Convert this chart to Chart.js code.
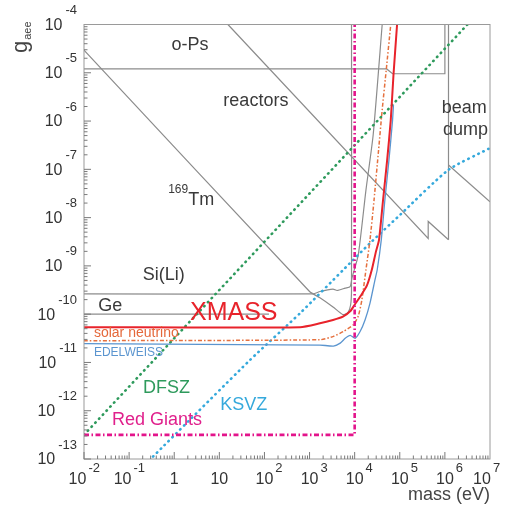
<!DOCTYPE html>
<html>
<head>
<meta charset="utf-8">
<script src="https://cdn.jsdelivr.net/npm/chart.js@4.4.1/dist/chart.umd.min.js"></script>
<style>
  html, body { margin: 0; padding: 0; background: #fff; }
  #wrap { width: 516px; height: 509px; }
</style>
</head>
<body>
<div id="wrap"><canvas id="chart" width="516" height="509"></canvas></div>
<script>
// all values are log10(mass / eV) and log10(g_aee)
const xExpMin = -2, xExpMax = 7;
const yExpMin = -13, yExpMax = -4;

const opsM = [-2, 4.71, 4.84, 6.0, 6.0];
const opsG = [-4.92, -4.92, -5.02, -5.02, -4];

const reactorsM = [1.19, 5.63, 5.63, 6.08];
const reactorsG = [-4, -8.43, -8.08, -8.46];

const beamDumpM = [6.08, 6.08];
const beamDumpG = [-4, -8.46];
const beamEdgeM = [6.08, 7.0];
const beamEdgeG = [-6.91, -7.67];

const tmM = [-2, 3.0, 3.23, 3.52, 3.74, 3.85, 3.91, 3.93, 3.93];
const tmG = [-4.53, -9.53, -9.66, -9.85, -10.01, -9.97, -9.81, -9.5, -4];

const siliM = [-2, 3.08, 3.23, 3.52, 3.61, 3.79, 3.90, 3.94, 4.08, 4.25, 4.41, 4.61];
const siliG = [-9.58, -9.58, -9.53, -9.48, -9.51, -9.46, -9.43, -9.25, -8.77, -7.43, -6.29, -4];

const geM = [-2, 2.1];
const geG = [-10, -10];

const xmassM = [-2, 2.79, 3.23, 3.52, 3.74, 3.90, 4.01, 4.12, 4.27, 4.38, 4.47, 4.54, 4.63, 4.72, 4.80, 4.86, 4.94];
const xmassG = [-10.27, -10.27, -10.19, -10.12, -10.05, -9.94, -9.79, -9.64, -9.41, -9.08, -8.71, -8.46, -7.63, -6.81, -5.98, -5.05, -4];

const solarM = [-2, 3.23, 3.53, 3.75, 3.97, 4.08, 4.16, 4.25, 4.34, 4.43, 4.53, 4.61, 4.70, 4.80];
const solarG = [-10.55, -10.53, -10.46, -10.36, -10.22, -10.04, -9.70, -9.08, -8.46, -7.63, -6.60, -5.77, -4.94, -4];

const edelM = [-2, 3.23, 3.53, 3.68, 3.79, 3.90, 4.01, 4.12, 4.23, 4.34, 4.45, 4.50, 4.59, 4.67, 4.76, 4.84, 4.86];
const edelG = [-10.61, -10.64, -10.66, -10.60, -10.50, -10.44, -10.50, -10.36, -10.12, -9.77, -9.29, -9.08, -8.46, -7.63, -6.81, -5.98, -5.67];

const dfszM = [-2, 6.5];
const dfszG = [-12.5, -4];

const ksvzM = [-0.47, 1.68, 2.79, 3.75, 4.34, 5.01, 6.08, 7.0];
const ksvzG = [-12.95, -10.95, -9.98, -9.08, -8.53, -7.94, -7.01, -6.56];

const redGiantM = [-2, 4.0, 4.0];
const redGiantG = [-12.5, -12.5, -4];

const labels = [
  { t: 'o-Ps', m: 0.35, g: -4.42, c: '#3a3a3a', s: 18, a: 'center' },
  { t: 'reactors', m: 1.81, g: -5.58, c: '#3a3a3a', s: 18, a: 'center' },
  { t: 'beam', m: 5.93, g: -5.73, c: '#3a3a3a', s: 18, a: 'left' },
  { t: 'dump', m: 5.96, g: -6.18, c: '#3a3a3a', s: 18, a: 'left' },
  { t: 'Tm', m: 0.31, g: -7.63, c: '#3a3a3a', s: 18, a: 'left' },
  { t: '169', m: 0.31, g: -7.42, c: '#3a3a3a', s: 12, a: 'right' },
  { t: 'Si(Li)', m: -0.23, g: -9.19, c: '#3a3a3a', s: 18, a: 'center' },
  { t: 'Ge', m: -1.42, g: -9.84, c: '#3a3a3a', s: 18, a: 'center' },
  { t: 'XMASS', m: 0.35, g: -9.97, c: '#e8232b', s: 25, a: 'left' },
  { t: 'solar neutrino', m: -1.78, g: -10.39, c: '#e5683a', s: 14, a: 'left' },
  { t: 'EDELWEISS', m: -1.78, g: -10.79, c: '#5b95cf', s: 12, a: 'left' },
  { t: 'DFSZ', m: -0.69, g: -11.53, c: '#2e9a5c', s: 18, a: 'left' },
  { t: 'KSVZ', m: 1.02, g: -11.88, c: '#35a9dc', s: 18, a: 'left' },
  { t: 'Red Giants', m: -1.38, g: -12.19, c: '#e0208c', s: 18, a: 'left' }
];

const FONT = '"Liberation Sans", Arial, sans-serif';

function pts(ms, gs) {
  return ms.map((m, i) => ({ x: 10 ** m, y: 10 ** gs[i] }));
}

function line(ms, gs, color, width, dash, tension) {
  const dotted = dash && dash[0] < 1;
  return {
    data: pts(ms, gs),
    showLine: true,
    borderColor: color,
    borderWidth: width,
    borderDash: dash || [],
    borderCapStyle: dotted ? 'round' : 'butt',
    pointRadius: 0,
    tension: tension || 0,
    fill: false
  };
}

const gray = '#8c8c8c';

const decor = {
  id: 'decor',
  afterDatasetsDraw(chart) {
    const { ctx, chartArea: a, scales: { x, y } } = chart;
    ctx.save();

    // labels inside the plot
    ctx.textBaseline = 'middle';
    labels.forEach(l => {
      ctx.font = l.s + 'px ' + FONT;
      ctx.fillStyle = l.c;
      ctx.textAlign = l.a;
      ctx.fillText(l.t, x.getPixelForValue(10 ** l.m), y.getPixelForValue(10 ** l.g));
    });

    // frame
    ctx.strokeStyle = '#9a9a9a';
    ctx.lineWidth = 1;
    ctx.strokeRect(a.left, a.top, a.right - a.left, a.bottom - a.top);

    // ticks
    ctx.strokeStyle = '#7a7a7a';
    ctx.beginPath();
    for (let e = yExpMin; e < yExpMax; e++) {
      for (let k = 1; k < 10; k++) {
        const py = y.getPixelForValue(k * 10 ** e);
        const len = k === 1 ? 7 : 3.5;
        ctx.moveTo(a.left, py); ctx.lineTo(a.left + len, py);
      }
    }
    for (let e = xExpMin; e < xExpMax; e++) {
      for (let k = 1; k < 10; k++) {
        const px = x.getPixelForValue(k * 10 ** e);
        const len = k === 1 ? 7 : 3.5;
        ctx.moveTo(px, a.bottom); ctx.lineTo(px, a.bottom - len);
      }
    }
    ctx.stroke();

    // tick labels
    ctx.fillStyle = '#333';
    ctx.textBaseline = 'middle';
    for (let e = yExpMin; e <= yExpMax; e++) {
      const py = y.getPixelForValue(10 ** e);
      ctx.font = '13px ' + FONT;
      const sup = String(e);
      const sw = ctx.measureText(sup).width;
      ctx.textAlign = 'right';
      ctx.fillText(sup, a.left - 7, py - 14);
      ctx.font = '16px ' + FONT;
      ctx.fillText('10', a.left - 7 - sw - 3, py + 1);
    }
    for (let e = xExpMin; e <= xExpMax; e++) {
      let px = x.getPixelForValue(10 ** e);
      ctx.font = '16px ' + FONT;
      ctx.textAlign = 'center';
      if (e === 0) { ctx.fillText('1', px, a.bottom + 21); continue; }
      if (e === 1) { ctx.fillText('10', px, a.bottom + 21); continue; }
      if (e < 0) px -= 6.5;
      if (e === xExpMax) px -= 8;
      ctx.fillText('10', px, a.bottom + 21);
      const bw = ctx.measureText('10').width;
      ctx.font = '13px ' + FONT;
      ctx.textAlign = 'left';
      ctx.fillText(String(e), px + bw / 2 + 2, a.bottom + 9);
    }

    // axis titles
    ctx.fillStyle = '#444';
    ctx.font = '18px ' + FONT;
    ctx.textAlign = 'right';
    ctx.fillText('mass (eV)', a.right, a.bottom + 36);

    ctx.translate(27, 53);
    ctx.rotate(-Math.PI / 2);
    ctx.textAlign = 'left';
    ctx.textBaseline = 'alphabetic';
    ctx.font = '22px ' + FONT;
    ctx.fillText('g', 0, 0);
    const gw = ctx.measureText('g').width;
    ctx.font = '11px ' + FONT;
    ctx.fillText('aee', gw + 1, 4);

    ctx.restore();
  }
};

new Chart(document.getElementById('chart'), {
  type: 'scatter',
  data: {
    datasets: [
      line(redGiantM, redGiantG, '#e3148b', 2.6, [5, 2.5, 1.5, 2.5]),
      line(xmassM, xmassG, '#e8232b', 2, null, 0.2),
      line(edelM, edelG, '#5b95cf', 1.3, null, 0.2),
      line(solarM, solarG, '#e5703e', 1.5, [4, 2, 1.5, 2], 0.2),
      line(dfszM, dfszG, '#2e9a5c', 2.6, [0.5, 5]),
      line(ksvzM, ksvzG, '#35a9dc', 2.6, [0.5, 5], 0.2),
      line(opsM, opsG, gray, 1.2),
      line(reactorsM, reactorsG, gray, 1.2),
      line(beamDumpM, beamDumpG, gray, 1.2),
      line(beamEdgeM, beamEdgeG, gray, 1.2),
      line(tmM, tmG, gray, 1.2, null, 0.2),
      line(siliM, siliG, gray, 1.2, null, 0.2),
      line(geM, geG, gray, 1.2)
    ]
  },
  options: {
    responsive: false,
    animation: false,
    layout: { padding: { left: 84, top: 24.5, right: 26, bottom: 50 } },
    plugins: {
      legend: { display: false },
      tooltip: { enabled: false }
    },
    scales: {
      x: { type: 'logarithmic', min: 10 ** xExpMin, max: 10 ** xExpMax, display: false },
      y: { type: 'logarithmic', min: 10 ** yExpMin, max: 10 ** yExpMax, display: false }
    }
  },
  plugins: [decor]
});
</script>
</body>
</html>
